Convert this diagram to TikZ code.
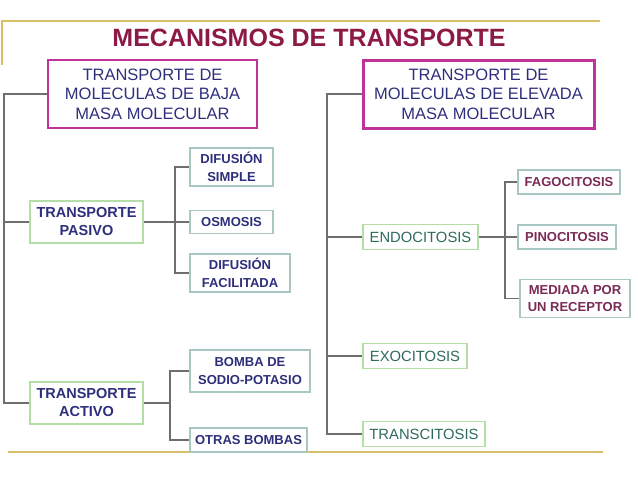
\documentclass[tikz,border=0pt]{standalone}
\usepackage{fontspec}
\setmainfont{Liberation Sans}
\usetikzlibrary{positioning, calc}
\definecolor{titlered}{HTML}{8C1A44}
\definecolor{magbd}{HTML}{C0329C}
\definecolor{navytx}{HTML}{2E2F7C}
\definecolor{greenbd}{HTML}{B5DDA8}
\definecolor{tealbd}{HTML}{A9C7C3}
\definecolor{greentx}{HTML}{2F6B5C}
\definecolor{maroontx}{HTML}{7A2A55}
\definecolor{goldln}{HTML}{D9BF6A}
\definecolor{conln}{HTML}{6E6E6E}
\tikzset{
  blk/.style   = {draw, align=center, inner sep=0pt},
  group/.style = {blk, draw=magbd, text=navytx, line width=2pt,
                  font=\fontsize{16.5}{19.5}\selectfont},
  kind/.style  = {blk, draw=greenbd, fill=white, line width=1.3pt, text=navytx,
                  font=\fontsize{14.5}{18}\selectfont\bfseries, minimum width=113pt},
  sub/.style   = {blk, draw=tealbd, fill=white, line width=1.2pt, text=navytx,
                  font=\fontsize{13}{17.5}\selectfont\bfseries},
  proc/.style  = {blk, draw=greenbd, fill=white, line width=1.3pt, text=greentx,
                  font=\fontsize{14.8}{18}\selectfont, minimum height=25pt},
  endsub/.style= {sub, text=maroontx},
  con/.style   = {draw=conln, line width=1.2pt},
  frame/.style = {draw=goldln, line width=1.3pt},
}
\begin{document}
\begin{tikzpicture}[x=1pt, y=-1pt]
\useasboundingbox (0,0) rectangle (638,479);
% --- frame lines and title ---------------------------------------------------
\draw[frame] (2,65) -- (2,21) -- (600,21);
\draw[frame] (8,452) -- (603,452);
\node[font=\fontsize{25}{28}\selectfont\bfseries, text=titlered] (title) at (309,38)
  {MECANISMOS DE TRANSPORTE};

% --- low molecular mass branch --------------------------------------------------
\node[group, minimum width=209pt, minimum height=68pt] (baja) at (152.5,94)
  {TRANSPORTE DE\\MOLECULAS DE BAJA\\MASA MOLECULAR};
\node[kind, minimum height=42pt] (pasivo) at (86.5,222) {TRANSPORTE\\PASIVO};
\node[kind, minimum height=42pt] (activo) at (86.5,403) {TRANSPORTE\\ACTIVO};
\node[sub, minimum width=83pt, minimum height=38pt] (simple) at (231.5,167)
  {DIFUSIÓN\\SIMPLE};
\node[sub, minimum width=83pt, minimum height=23pt] (osmosis) at (231.5,222) {OSMOSIS};
\node[sub, minimum width=100pt, minimum height=38pt] (facil) at (240,273)
  {DIFUSIÓN\\FACILITADA};
\node[sub, minimum width=120pt, minimum height=42pt] (bomba) at (250,371)
  {BOMBA DE\\SODIO-POTASIO};
\node[sub, minimum width=117pt, minimum height=24pt] (otras) at (248.5,440)
  {OTRAS BOMBAS};

\coordinate (ltrunk) at (4,0);
\coordinate (pbr) at (175,0);
\coordinate (abr) at (170,0);
\draw[con] (baja.west) -- (baja.west -| ltrunk) -- (activo.west -| ltrunk) -- (activo.west);
\draw[con] (pasivo.west -| ltrunk) -- (pasivo.west);
\draw[con] (pasivo.east) -- (osmosis.west);
\draw[con] (simple.west) -- (simple.west -| pbr) -- (facil.west -| pbr) -- (facil.west);
\draw[con] (activo.east) -- (activo.east -| abr);
\draw[con] (bomba.west) -- (bomba.west -| abr) -- (otras.west -| abr) -- (otras.west);

% --- high molecular mass branch -------------------------------------------------
\node[group, line width=3pt, minimum width=231pt, minimum height=68pt] (elevada) at (478.5,94)
  {TRANSPORTE DE\\MOLECULAS DE ELEVADA\\MASA MOLECULAR};
\node[proc, minimum width=115pt] (endo) at (420.5,237) {ENDOCITOSIS};
\node[proc, minimum width=104pt] (exo) at (415,356) {EXOCITOSIS};
\node[proc, minimum width=122pt] (trans) at (424,434) {TRANSCITOSIS};
\node[endsub, minimum width=102pt, minimum height=24pt] (fago) at (569,182) {FAGOCITOSIS};
\node[endsub, minimum width=98pt, minimum height=24pt] (pino) at (567,237) {PINOCITOSIS};
\node[endsub, minimum width=110pt, minimum height=38pt] (mediada) at (575,298.5)
  {MEDIADA POR\\UN RECEPTOR};

\coordinate (rtrunk) at (327,0);
\coordinate (ebr) at (505,0);
\draw[con] (elevada.west) -- (elevada.west -| rtrunk) -- (trans.west -| rtrunk) -- (trans.west);
\draw[con] (endo.west -| rtrunk) -- (endo.west);
\draw[con] (exo.west -| rtrunk) -- (exo.west);
\draw[con] (endo.east) -- (pino.west);
\draw[con] (fago.west) -- (fago.west -| ebr) -- (mediada.west -| ebr) -- (mediada.west);
\end{tikzpicture}
\end{document}
